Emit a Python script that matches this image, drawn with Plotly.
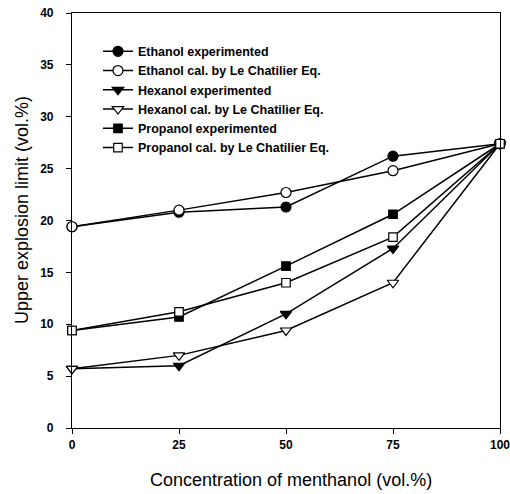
import plotly.graph_objects as go

x_conc = [0, 25, 50, 75, 100]
ethanol_exp = [19.4, 20.8, 21.3, 26.2, 27.4]
ethanol_cal = [19.4, 21.0, 22.7, 24.8, 27.4]
hexanol_exp = [5.7, 6.0, 11.0, 17.3, 27.4]
hexanol_cal = [5.7, 7.0, 9.4, 14.0, 27.4]
propanol_exp = [9.4, 10.7, 15.6, 20.6, 27.4]
propanol_cal = [9.4, 11.2, 14.0, 18.4, 27.4]

x_ticks = [0, 25, 50, 75, 100]
y_ticks = [0, 5, 10, 15, 20, 25, 30, 35, 40]

series = [
    ("Ethanol experimented", ethanol_exp, "circle"),
    ("Ethanol cal. by Le Chatilier Eq.", ethanol_cal, "circle-open"),
    ("Hexanol experimented", hexanol_exp, "triangle-down"),
    ("Hexanol cal. by Le Chatilier Eq.", hexanol_cal, "triangle-down-open"),
    ("Propanol experimented", propanol_exp, "square"),
    ("Propanol cal. by Le Chatilier Eq.", propanol_cal, "square-open"),
]

fig = go.Figure()
for name, vals, sym in series:
    is_open = sym.endswith("open")
    base = sym.replace("-open", "")
    fig.add_trace(go.Scatter(
        x=x_conc, y=vals, name="<b>%s</b>" % name, mode="lines+markers",
        line=dict(color="black", width=1.5),
        marker=dict(symbol=base, size=10 if base != "square" else 8.5,
                    color="white" if is_open else "black",
                    line=dict(color="black", width=1.2)),
        cliponaxis=False,
    ))

font_family = "Liberation Sans, Arial, sans-serif"
fig.update_layout(
    width=510, height=494,
    margin=dict(l=72, r=10, t=13, b=66),
    paper_bgcolor="white", plot_bgcolor="white",
    font=dict(family=font_family, color="black"),
    showlegend=True,
    legend=dict(x=0.0607, y=0.943, xanchor="left", yanchor="top",
                bgcolor="rgba(0,0,0,0)", font=dict(size=12.5, color="black"),
                tracegroupgap=0),
    xaxis=dict(range=[0, 100], tickvals=x_ticks,
               ticktext=["<b>%d</b>" % v for v in x_ticks],
               automargin=False, ticklabeloverflow="allow",
               showgrid=False, zeroline=False, showline=True, mirror=True,
               linecolor="black", linewidth=1.2, ticks="outside", ticklen=5,
               tickcolor="black", tickfont=dict(size=12), ticklabelstandoff=0),
    yaxis=dict(range=[0, 40], tickvals=y_ticks,
               ticktext=["<b>%d</b>" % v for v in y_ticks],
               automargin=False, ticklabeloverflow="allow",
               showgrid=False, zeroline=False, showline=True, mirror=True,
               linecolor="black", linewidth=1.2, ticks="outside", ticklen=5,
               tickcolor="black", tickfont=dict(size=12), ticklabelstandoff=10),
    annotations=[
        dict(text="Concentration of menthanol (vol.%)", xref="paper", yref="paper",
             x=(291 - 72) / 428, y=-(480 - 428) / 415, xanchor="center", yanchor="middle",
             showarrow=False, font=dict(size=18)),
        dict(text="Upper explosion limit (vol.%)", xref="paper", yref="paper",
             x=-(72 - 22) / 428, y=(428 - 210) / 415, xanchor="center", yanchor="middle",
             textangle=-90, showarrow=False, font=dict(size=18)),
    ],
)

fig.write_html("out.html",
               config={"displayModeBar": False},
               post_script="document.body.style.margin='0';document.body.style.overflow='hidden';")
